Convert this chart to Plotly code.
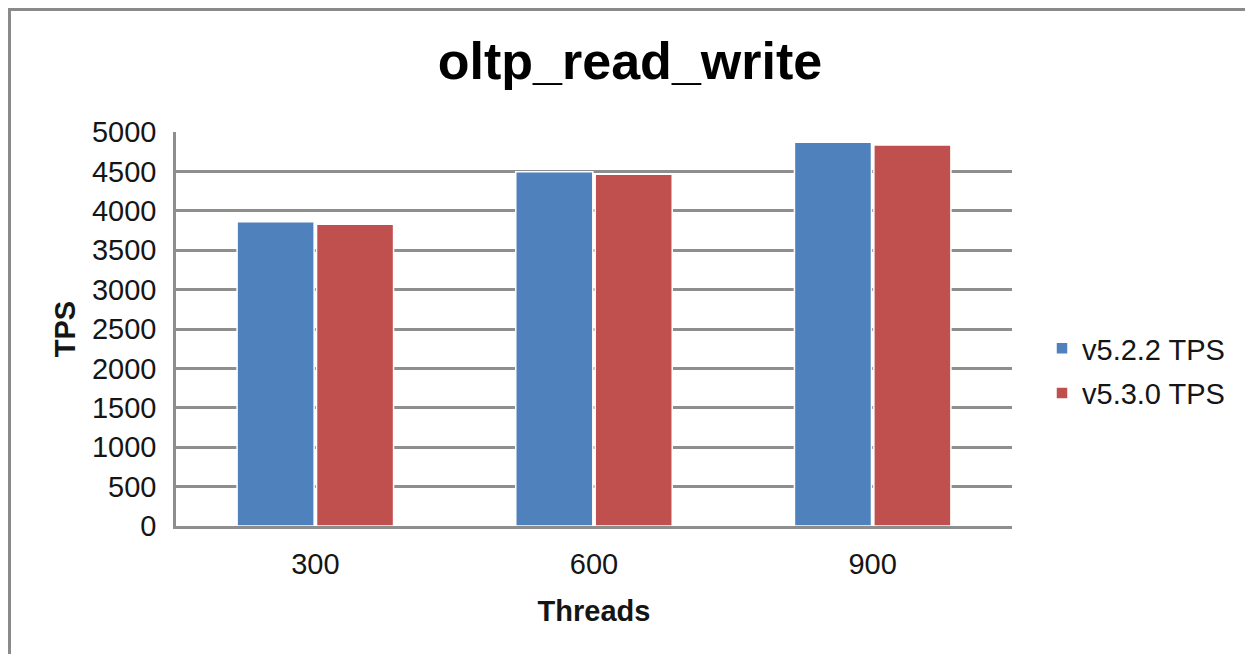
import plotly.graph_objects as go

threads = ["300", "600", "900"]
v522 = [3862, 4496, 4869]
v530 = [3828, 4463, 4835]
y_ticks = [0, 500, 1000, 1500, 2000, 2500, 3000, 3500, 4000, 4500, 5000]

# page body has an 8px margin; work in figure coords = page coords - 8
OFF = 8
W, H = 1253 - 2 * OFF, 662 - 2 * OFF
PL, PR, PT, PB = 176, 1012, 132, 526  # plot area in page coords
L, T = PL - OFF, PT - OFF
pw, ph = PR - PL, PB - PT
R, B = W - L - pw, H - T - ph

fig = go.Figure()
fig.add_trace(go.Bar(x=threads, y=v522, name="v5.2.2 TPS", legendgroup="a",
                     marker=dict(color="#4f81bd", line=dict(color="white", width=1.5))))
fig.add_trace(go.Bar(x=threads, y=v530, name="v5.3.0 TPS", legendgroup="b",
                     marker=dict(color="#c0504d", line=dict(color="white", width=1.5))))

font = "Liberation Sans, Arial, sans-serif"
grid = "#8e8e8e"
fig.update_layout(
    width=W, height=H,
    margin=dict(l=L, r=R, t=T, b=B, autoexpand=False),
    paper_bgcolor="white", plot_bgcolor="white",
    font=dict(family=font, size=29, color="#151515"),
    title=dict(text="<b>oltp_read_write</b>", x=(630 - OFF) / W, xanchor="center",
               y=1 - (61 - OFF) / H, yanchor="middle", font=dict(size=52, color="black")),
    barmode="group", bargap=0.43, bargroupgap=0.03,
    showlegend=True,
    legend=dict(x=(1034 - L) / pw, y=(PB - 371) / ph, xanchor="left", yanchor="middle",
                xref="paper", font=dict(size=29), traceorder="grouped", tracegroupgap=4,
                bgcolor="rgba(0,0,0,0)", borderwidth=0),
    xaxis=dict(title=dict(text="<b>Threads</b>", font=dict(size=29), standoff=23),
               showline=True, linecolor=grid, linewidth=2.5, ticks="",
               tickfont=dict(size=29), showgrid=False, ticklabelstandoff=10),
    yaxis=dict(title=dict(text="<b>TPS</b>", font=dict(size=29), standoff=8),
               range=[0, 5000], tickvals=y_ticks, ticks="",
               showline=True, linecolor=grid, linewidth=2.5,
               showgrid=True, gridcolor=grid, gridwidth=2.5,
               tickfont=dict(size=29), zeroline=False, ticklabelstandoff=11),
)

# outer page border (left and top edges visible)
fig.add_shape(type="rect", xref="paper", yref="paper",
              x0=(1.5 - L) / pw, x1=(W + 20 - L) / pw,
              y0=(T + ph - (H + 20)) / ph, y1=(T + ph - 1.5) / ph,
              line=dict(color="#8a8a8a", width=3), fillcolor="rgba(0,0,0,0)", layer="below")

fig.write_html("out.html")
